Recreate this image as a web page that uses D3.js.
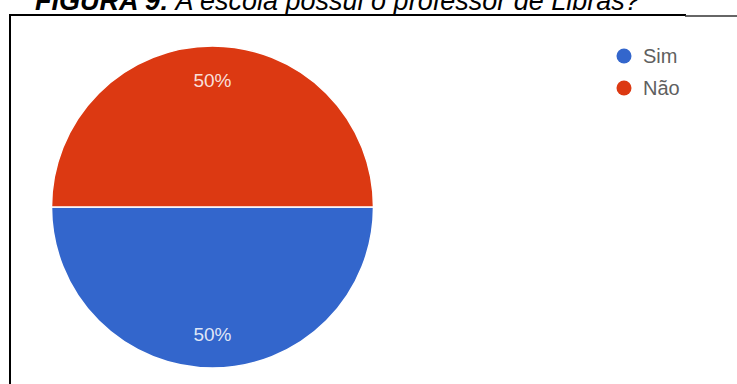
<!DOCTYPE html>
<html>
<head>
<meta charset="utf-8">
<script src="https://cdn.jsdelivr.net/npm/d3@7/dist/d3.min.js"></script>
<style>
  html, body { margin: 0; padding: 0; background: #fff; }
  svg { display: block; }
</style>
</head>
<body>
<svg id="chart" width="737" height="384"></svg>
<script>
// Survey answers: "Does the school have a Libras teacher?"
const categories = ["Sim", "Não"];
const values = [50, 50];
const colors = ["#3366cc", "#dc3912"];
const titleBold = "FIGURA 9:";
const titleRest = " A escola possui o professor de Libras?";

const svg = d3.select("#chart");
const W = 737, H = 384;

// Caption above the framed chart
const title = svg.append("text")
  .attr("x", 35)
  .attr("y", 9.5)
  .attr("font-family", "'Liberation Sans', Arial, sans-serif")
  .attr("font-size", 27)
  .attr("font-style", "italic")
  .attr("fill", "#000");
title.append("tspan").attr("font-weight", "bold").text(titleBold);
title.append("tspan").attr("xml:space", "preserve").text(titleRest);

// Frame: top and left edges
svg.append("line").attr("x1", 9).attr("x2", 686).attr("y1", 15).attr("y2", 15)
  .attr("stroke", "#000").attr("stroke-width", 2);
svg.append("line").attr("x1", 685).attr("x2", W).attr("y1", 16).attr("y2", 16)
  .attr("stroke", "#333").attr("stroke-width", 1.5);
svg.append("line").attr("x1", 10).attr("x2", 10).attr("y1", 14).attr("y2", H)
  .attr("stroke", "#000").attr("stroke-width", 2);

// Pie
const cx = 212.5, cy = 207, r = 161;
const color = d3.scaleOrdinal().domain(categories).range(colors);
const pie = d3.pie().sort(null).startAngle(Math.PI / 2).endAngle(Math.PI / 2 + 2 * Math.PI);
const data = categories.map((c, i) => ({ cat: c, value: values[i] }));
const arcs = pie.value(d => d.value)(data);
const arc = d3.arc().innerRadius(0).outerRadius(r);
const labelArc = d3.arc().innerRadius(r * 0.79).outerRadius(r * 0.79);

const g = svg.append("g").attr("transform", `translate(${cx},${cy})`);
g.selectAll("path.slice").data(arcs).join("path")
  .attr("class", "slice")
  .attr("d", arc)
  .attr("fill", d => color(d.data.cat))
  .attr("stroke", "#fff")
  .attr("stroke-width", 1.5);

const total = d3.sum(values);
g.selectAll("text.pct").data(arcs).join("text")
  .attr("class", "pct")
  .attr("transform", d => `translate(${labelArc.centroid(d)})`)
  .attr("text-anchor", "middle")
  .attr("dy", "0.36em")
  .attr("font-family", "'Liberation Sans', Arial, sans-serif")
  .attr("font-size", 19)
  .attr("fill", "#fff")
  .attr("fill-opacity", 0.85)
  .text(d => Math.round(d.data.value / total * 100) + "%");

// Legend
const legend = svg.append("g").attr("transform", "translate(624,56)");
const item = legend.selectAll("g").data(categories).join("g")
  .attr("transform", (d, i) => `translate(0,${i * 32})`);
item.append("circle").attr("r", 7.5).attr("fill", d => color(d));
item.append("text")
  .attr("x", 19)
  .attr("dy", "0.36em")
  .attr("font-family", "'Liberation Sans', Arial, sans-serif")
  .attr("font-size", 20)
  .attr("fill", "#5f5f5f")
  .text(d => d);
</script>
</body>
</html>
